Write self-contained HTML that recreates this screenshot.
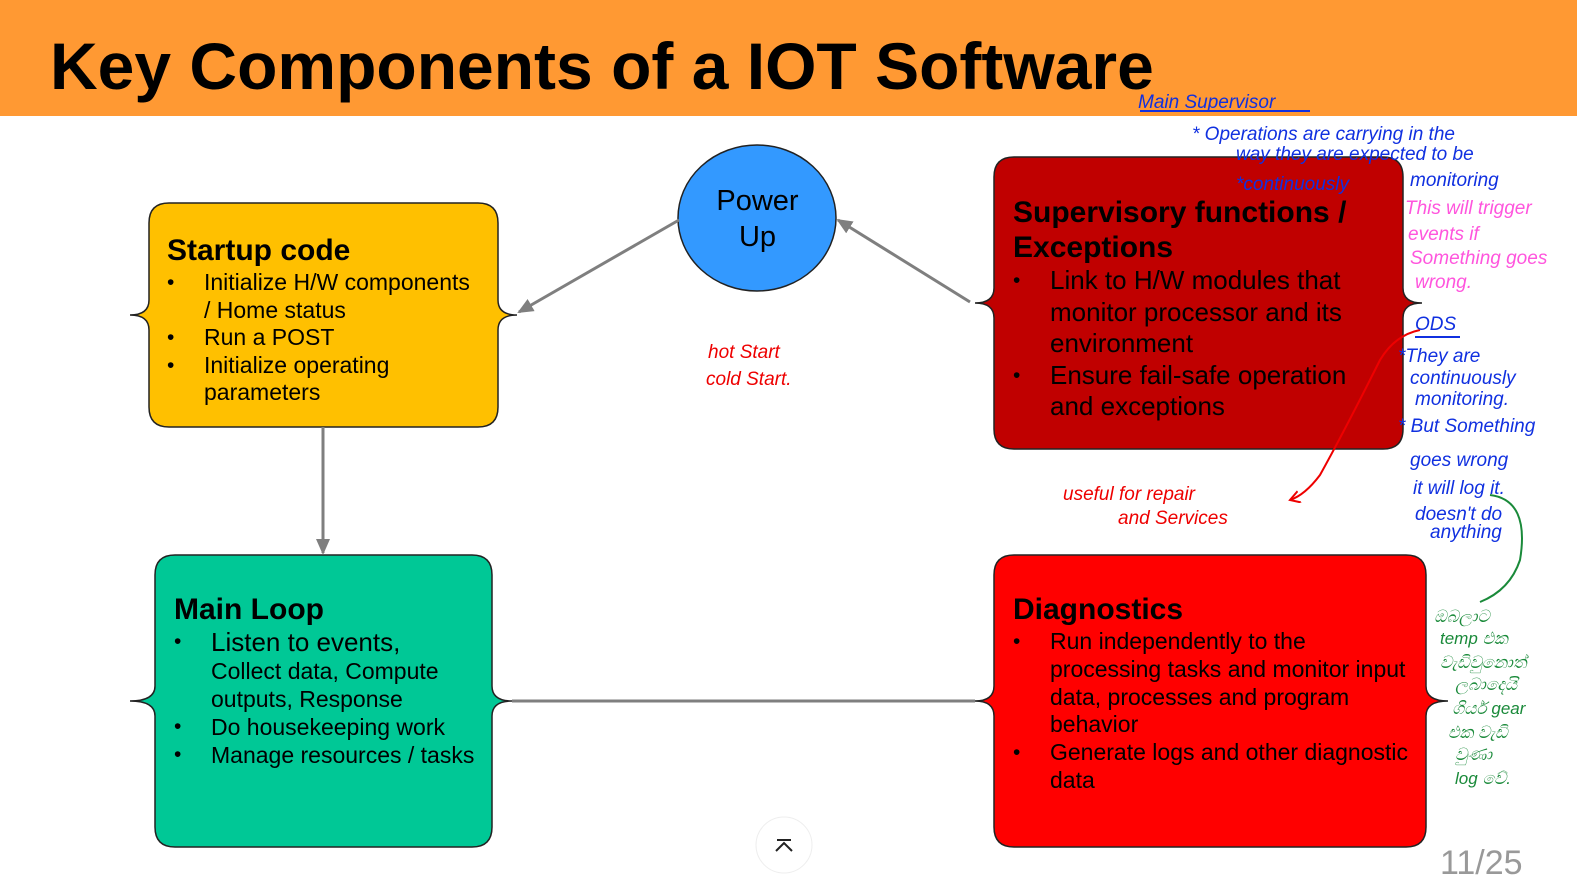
<!DOCTYPE html>
<html><head><meta charset="utf-8"><style>
body{margin:0;width:1577px;height:888px;overflow:hidden;background:#fff;font-family:"Liberation Sans",sans-serif;position:relative}
.hdr{position:absolute;left:0;top:0;width:1577px;height:116px;background:#FF9933}
.hdr h1{position:absolute;left:50px;top:28px;margin:0;font-size:66px;font-weight:bold;color:#000}
.t{position:absolute;color:#000}
.t b{display:block;font-size:30px}
.t ul{margin:0;padding:0;list-style:none}
.t li{position:relative;padding-left:37px}
.t li:before{content:"•";position:absolute;left:0;font-size:21px}
.h{font-family:"Liberation Sans",sans-serif;font-style:italic}
</style></head><body>
<div class="hdr"><h1>Key Components of a IOT Software</h1></div>
<svg width="1577" height="888" style="position:absolute;left:0;top:0">
<defs><marker id="a" markerWidth="20" markerHeight="20" refX="14" refY="7" orient="auto" markerUnits="userSpaceOnUse"><path d="M0,0 L16,7 L0,14 z" fill="#7f7f7f"/></marker>
<marker id="r" markerWidth="20" markerHeight="20" refX="10" refY="6" orient="auto" markerUnits="userSpaceOnUse"><path d="M0,0 L10,6 L0,12" fill="none" stroke="#e00" stroke-width="2"/></marker></defs>
<g stroke="#222" stroke-width="1.5">
<path d="M169,203 H478 Q498,203 498,223 V300 Q498,315 517,315 Q498,315 498,330 V407 Q498,427 478,427 H169 Q149,427 149,407 V330 Q149,315 130,315 Q149,315 149,300 V223 Q149,203 169,203 Z" fill="#FFC000"/>
<path d="M175,555 H472 Q492,555 492,575 V686 Q492,701 512,701 Q492,701 492,716 V827 Q492,847 472,847 H175 Q155,847 155,827 V716 Q155,701 130,701 Q155,701 155,686 V575 Q155,555 175,555 Z" fill="#00C896"/>
<path d="M1014,157 H1383 Q1403,157 1403,177 V288 Q1403,303 1422,303 Q1403,303 1403,318 V429 Q1403,449 1383,449 H1014 Q994,449 994,429 V318 Q994,303 975,303 Q994,303 994,288 V177 Q994,157 1014,157 Z" fill="#C00000"/>
<path d="M1014,555 H1406 Q1426,555 1426,575 V686 Q1426,701 1448,701 Q1426,701 1426,716 V827 Q1426,847 1406,847 H1014 Q994,847 994,827 V716 Q994,701 975,701 Q994,701 994,686 V575 Q994,555 1014,555 Z" fill="#FF0000"/>
<ellipse cx="757" cy="218" rx="79" ry="73" fill="#3399FF"/>
</g>
<g stroke="#7f7f7f" stroke-width="3" fill="none">
<line x1="679" y1="220" x2="519" y2="312" marker-end="url(#a)"/>
<line x1="970" y1="302" x2="838" y2="220" marker-end="url(#a)"/>
<line x1="323" y1="427" x2="323" y2="553" marker-end="url(#a)"/>
<line x1="512" y1="701" x2="975" y2="701"/>
</g>
<circle cx="784" cy="845" r="28" fill="#fff" stroke="#eee"/>
<path d="M776,851 L784,843 L792,851" stroke="#222" stroke-width="2" fill="none"/>
<line x1="777" y1="840" x2="791" y2="840" stroke="#222" stroke-width="2"/>
<path d="M1420,330 Q1395,335 1380,360 Q1345,430 1320,475 Q1305,495 1290,500" stroke="#e00" stroke-width="2" fill="none" marker-end="url(#r)"/>
<path d="M1490,495 Q1530,500 1520,560 Q1510,590 1480,602" stroke="#1a8a3a" stroke-width="2" fill="none"/>
<line x1="1140" y1="111" x2="1310" y2="111" stroke="#1030e0" stroke-width="2"/>
<line x1="1415" y1="337" x2="1460" y2="337" stroke="#1030e0" stroke-width="2"/>
<g class="h" font-size="19">
<text x="1138" y="108" fill="#1030e0">Main Supervisor</text>
<text x="1192" y="140" fill="#1030e0">* Operations are carrying in the</text>
<text x="1236" y="160" fill="#1030e0">way they are expected to be</text>
<text x="1236" y="190" fill="#1030e0">*continuously</text>
<text x="1410" y="186" fill="#1030e0">monitoring</text>
<text x="1405" y="214" fill="#ff55dd">This will trigger</text>
<text x="1408" y="240" fill="#ff55dd">events if</text>
<text x="1410" y="264" fill="#ff55dd">Something goes</text>
<text x="1415" y="288" fill="#ff55dd">wrong.</text>
<text x="1415" y="330" fill="#1030e0">ODS</text>
<text x="1398" y="362" fill="#1030e0">*They are</text>
<text x="1410" y="384" fill="#1030e0">continuously</text>
<text x="1415" y="405" fill="#1030e0">monitoring.</text>
<text x="1398" y="432" fill="#1030e0">* But Something</text>
<text x="1410" y="466" fill="#1030e0">goes wrong</text>
<text x="1413" y="494" fill="#1030e0">it will log it.</text>
<text x="1415" y="520" fill="#1030e0">doesn't do</text>
<text x="1430" y="538" fill="#1030e0">anything</text>
<text x="708" y="358" fill="#e00">hot Start</text>
<text x="706" y="385" fill="#e00">cold Start.</text>
<text x="1063" y="500" fill="#e00">useful for repair</text>
<text x="1118" y="524" fill="#e00">and Services</text>
<g fill="#1a8a3a" font-size="17">
<text x="1434" y="622">ඔබලාට</text><text x="1440" y="644">temp එක</text><text x="1440" y="668">වැඩිවුනොත්</text>
<text x="1455" y="690">ලබාදෙයි</text><text x="1452" y="714">ගියර් gear</text><text x="1448" y="738">එක වැඩි</text>
<text x="1455" y="760">වුණා</text><text x="1455" y="784">log වේ.</text></g>
</g>
</svg>
<div class="t" style="left:679px;top:183px;width:157px;text-align:center;font-size:29px;line-height:36px">Power<br>Up</div>
<div class="t" style="left:167px;top:233px;width:315px;font-size:23px;line-height:27.5px"><b style="line-height:36px">Startup code</b><ul><li>Initialize H/W components / Home status</li><li>Run a POST</li><li>Initialize operating parameters</li></ul></div>
<div class="t" style="left:174px;top:592px;width:310px;font-size:23px;line-height:28px"><b style="line-height:36px">Main Loop</b><ul><li><span style="font-size:26px">Listen to events,</span><br>Collect data, Compute outputs, Response</li><li>Do housekeeping work</li><li>Manage resources / tasks</li></ul></div>
<div class="t" style="left:1013px;top:195px;width:370px;font-size:26px;line-height:31.5px"><b style="line-height:35px">Supervisory functions / Exceptions</b><ul><li>Link to H/W modules that monitor processor and its environment</li><li>Ensure fail-safe operation and exceptions</li></ul></div>
<div class="t" style="left:1013px;top:592px;width:405px;font-size:23px;line-height:27.8px"><b style="line-height:36px">Diagnostics</b><ul><li>Run independently to the processing tasks and monitor input data, processes and program behavior</li><li>Generate logs and other diagnostic data</li></ul></div>
<div class="t" style="left:1440px;top:844px;font-size:34px;color:#999">11/25</div>
</body></html>
